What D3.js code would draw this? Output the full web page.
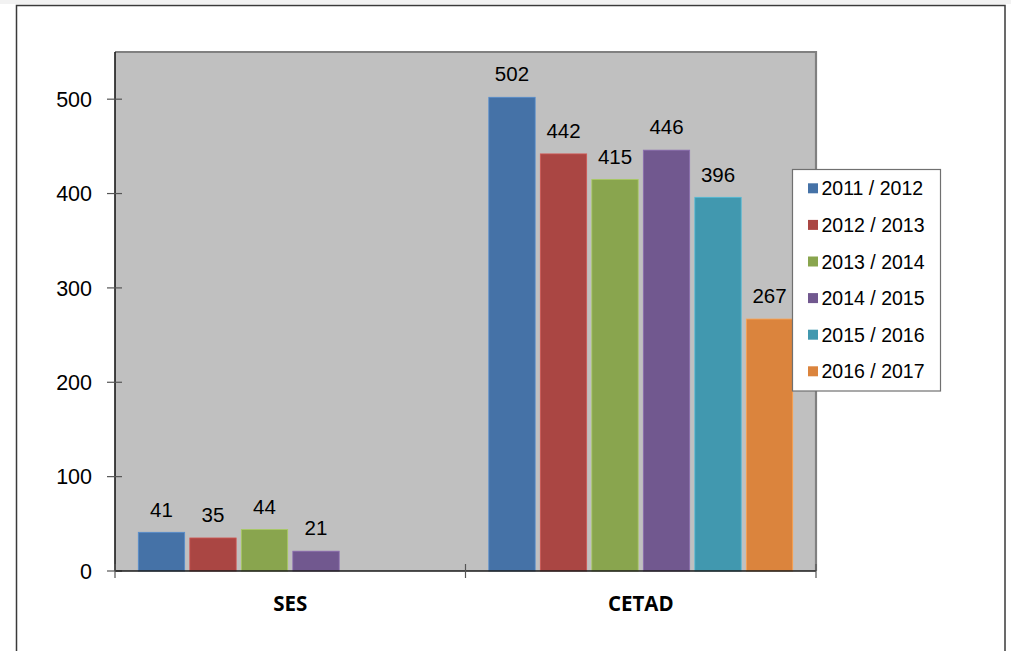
<!DOCTYPE html>
<html>
<head>
<meta charset="utf-8">
<script src="https://cdn.jsdelivr.net/npm/d3@7"></script>
<style>
  html, body { margin: 0; padding: 0; background: #ffffff; }
  svg { display: block; }
</style>
</head>
<body>
<svg id="chart" width="1011" height="651"></svg>
<script>
// ---- data ----
const categories = ["SES", "CETAD"];
const seriesNames = ["2011 / 2012", "2012 / 2013", "2013 / 2014", "2014 / 2015", "2015 / 2016", "2016 / 2017"];
const sesValues = [41, 35, 44, 21, null, null];
const cetadValues = [502, 442, 415, 446, 396, 267];
const seriesColors = ["#4572a7", "#aa4643", "#89a54e", "#71588f", "#4198af", "#db843d"];
const yTicks = [0, 100, 200, 300, 400, 500];

const valuesByCategory = { "SES": sesValues, "CETAD": cetadValues };

const svg = d3.select("#chart");
const W = 1011, H = 651;

// outer frame
svg.append("rect").attr("x", 0).attr("y", 0).attr("width", W).attr("height", 4).attr("fill", "#f2f2f2");
svg.append("rect")
  .attr("x", 16.5).attr("y", 5.5).attr("width", 988.5).attr("height", 700)
  .attr("fill", "#ffffff").attr("stroke", "#3a3a3a").attr("stroke-width", 1.5);

const plot = { left: 115, right: 816, top: 52, bottom: 571 };

const x0 = d3.scaleBand().domain(categories).range([plot.left, plot.right]).padding(0);
const innerPad = 23.3;
const x1 = d3.scaleBand().domain(seriesNames)
  .range([innerPad, x0.bandwidth() - innerPad])
  .paddingInner(0.1).paddingOuter(0);
const y = d3.scaleLinear().domain([0, 550]).range([plot.bottom, plot.top]);

// plot area
svg.append("rect")
  .attr("x", plot.left).attr("y", plot.top)
  .attr("width", plot.right - plot.left).attr("height", plot.bottom - plot.top)
  .attr("fill", "#c0c0c0");
// top and right border of plot area
svg.append("path")
  .attr("d", `M${plot.left},${plot.top} H${plot.right} V${plot.bottom}`)
  .attr("fill", "none").attr("stroke", "#808080").attr("stroke-width", 2.2);

// bars
const groups = svg.append("g").selectAll("g")
  .data(categories).join("g")
  .attr("transform", d => `translate(${x0(d)},0)`);

const barData = c => seriesNames.map((s, i) => ({ cat: c, series: s, i, v: valuesByCategory[c][i] }))
  .filter(d => d.v != null);

groups.selectAll("rect")
  .data(d => barData(d)).join("rect")
  .attr("x", d => x1(d.series))
  .attr("y", d => y(d.v))
  .attr("width", x1.bandwidth())
  .attr("height", d => y(0) - y(d.v))
  .attr("fill", d => seriesColors[d.i])
  .attr("stroke", d => d3.color(seriesColors[d.i]).brighter(0.6))
  .attr("stroke-width", 0.8);

groups.selectAll("text.lbl")
  .data(d => barData(d)).join("text")
  .attr("class", "lbl")
  .attr("x", d => x1(d.series) + x1.bandwidth() / 2)
  .attr("y", d => y(d.v) - 15.8)
  .attr("text-anchor", "middle")
  .attr("font-family", "'Liberation Sans', Arial, sans-serif")
  .attr("font-size", 20.5)
  .attr("fill", "#000")
  .text(d => d.v);

// y axis
const yAxis = svg.append("g");
yAxis.append("line")
  .attr("x1", plot.left).attr("x2", plot.left)
  .attr("y1", plot.top).attr("y2", plot.bottom)
  .attr("stroke", "#1a1a1a").attr("stroke-width", 1.6);
yAxis.selectAll("line.tick").data(yTicks).join("line")
  .attr("class", "tick")
  .attr("x1", plot.left - 8).attr("x2", plot.left + 7)
  .attr("y1", d => y(d)).attr("y2", d => y(d))
  .attr("stroke", "#555").attr("stroke-width", 1.2);
yAxis.selectAll("text").data(yTicks).join("text")
  .attr("x", 92)
  .attr("y", d => y(d))
  .attr("dy", "0.36em")
  .attr("text-anchor", "end")
  .attr("font-family", "'Liberation Sans', Arial, sans-serif")
  .attr("font-size", 21.5)
  .attr("fill", "#000")
  .text(d => d);

// x axis
const xAxis = svg.append("g");
xAxis.append("line")
  .attr("x1", plot.left).attr("x2", plot.right)
  .attr("y1", plot.bottom).attr("y2", plot.bottom)
  .attr("stroke", "#1a1a1a").attr("stroke-width", 1.6);
const boundaries = [x0(categories[0]), ...categories.map(c => x0(c) + x0.bandwidth())];
xAxis.selectAll("line.tick").data(boundaries).join("line")
  .attr("class", "tick")
  .attr("x1", d => d).attr("x2", d => d)
  .attr("y1", plot.bottom - 7).attr("y2", plot.bottom + 7)
  .attr("stroke", "#555").attr("stroke-width", 1.2);
xAxis.selectAll("text").data(categories).join("text")
  .attr("x", d => x0(d) + x0.bandwidth() / 2)
  .attr("y", 610.5)
  .attr("text-anchor", "middle")
  .attr("font-family", "'Open Sans', sans-serif")
  .attr("font-weight", "bold")
  .attr("font-size", 20.5)
  .attr("fill", "#000")
  .text(d => d);

// legend
const legend = svg.append("g");
legend.append("rect")
  .attr("x", 792.5).attr("y", 169.5).attr("width", 148).attr("height", 221.5)
  .attr("fill", "#fff").attr("stroke", "#707070").attr("stroke-width", 1.2);
const legY = d3.scalePoint().domain(seriesNames).range([188.3, 371.3]);
legend.selectAll("rect.sw").data(seriesNames).join("rect")
  .attr("class", "sw")
  .attr("x", 808).attr("y", d => legY(d) - 5)
  .attr("width", 10).attr("height", 10)
  .attr("fill", (d, i) => seriesColors[i]);
legend.selectAll("text").data(seriesNames).join("text")
  .attr("x", 821.5).attr("y", d => legY(d))
  .attr("dy", "0.36em")
  .attr("font-family", "'Liberation Sans', Arial, sans-serif")
  .attr("font-size", 19.5)
  .attr("fill", "#000")
  .text(d => d);
</script>
</body>
</html>
